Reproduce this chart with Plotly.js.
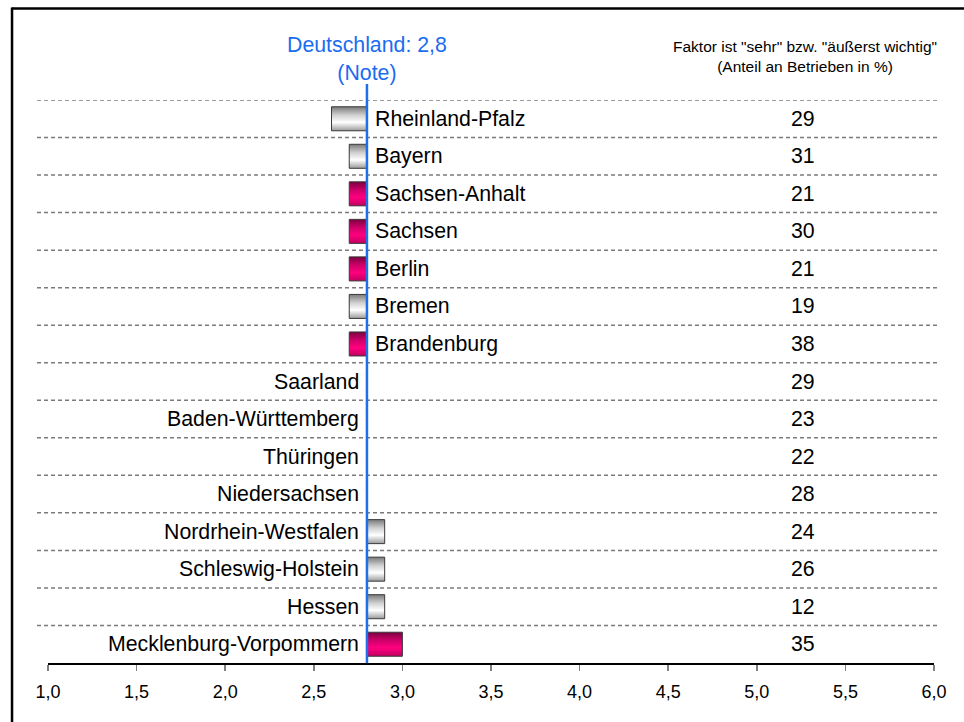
<!DOCTYPE html>
<html>
<head>
<meta charset="utf-8">
<script src="https://cdn.plot.ly/plotly-3.0.1.min.js"></script>
<style>html,body{margin:0;padding:0;background:#fff;}#chart{width:964px;height:722px;}</style>
</head>
<body>
<div id="chart"></div>
<script>
// ---- data ----
const states = ["Rheinland-Pfalz","Bayern","Sachsen-Anhalt","Sachsen","Berlin","Bremen","Brandenburg","Saarland","Baden-Württemberg","Thüringen","Niedersachsen","Nordrhein-Westfalen","Schleswig-Holstein","Hessen","Mecklenburg-Vorpommern"];
const grades = [2.6,2.7,2.7,2.7,2.7,2.7,2.7,2.8,2.8,2.8,2.8,2.9,2.9,2.9,3.0];
const shares = [29,31,21,30,21,19,38,29,23,22,28,24,26,12,35];
const region = ["W","W","O","O","O","W","O","W","W","O","W","W","W","W","O"]; // O = Ost (pink), W = West (grey)
const germany = 2.8;
const xTicks = [1.0,1.5,2.0,2.5,3.0,3.5,4.0,4.5,5.0,5.5,6.0];
const headerLines = ['Faktor ist "sehr" bzw. "äußerst wichtig"', '(Anteil an Betrieben in %)'];
const refLines = ['Deutschland: 2,8', '(Note)'];

const FONT = 'Liberation Sans, Arial, sans-serif';
const BIG = 21.3;

function barTrace(reg, color) {
  const idx = states.map((s,i)=>i).filter(i=>region[i]===reg);
  return {
    type:'bar', orientation:'h',
    y: idx.map(i=>states[i]),
    x: idx.map(i=>Math.round((grades[i]-germany)*10)/10),
    base: idx.map(()=>germany),
    width: 0.64,
    marker:{color:color, line:{color:'#3a3a3a', width:1}},
    hoverinfo:'skip', name: reg
  };
}

const traces = [barTrace('W','#d8d8d8'), barTrace('O','#f0007a')];

const annotations = [];
states.forEach((s,i)=>{
  const left = grades[i] < germany;
  annotations.push({
    x: germany, y: s, xref:'x', yref:'y', text: s, showarrow:false,
    xanchor: left ? 'left' : 'right', xshift: left ? 6 : -6,
    font:{family:FONT, size:BIG, color:'#000'}
  });
  annotations.push({
    x: 0.852, y: s, xref:'paper', yref:'y', text: String(shares[i]), showarrow:false,
    xanchor:'center', font:{family:FONT, size:BIG, color:'#000'}
  });
});
annotations.push({x:0.854, y:1.0+ (100-57)/563, xref:'paper', yref:'paper', text:headerLines.join('<br>'), showarrow:false, xanchor:'center', yanchor:'middle', font:{family:FONT, size:15.5, color:'#000'}});
annotations.push({x:germany, y:1.0+ (100-59)/563, xref:'x', yref:'paper', text:refLines.join('<br>'), showarrow:false, xanchor:'center', yanchor:'middle', font:{family:FONT, size:BIG, color:'#1a6cf0'}});

const shapes = [];
for (let k = 0; k < states.length; k++) {
  shapes.push({type:'line', xref:'paper', yref:'y', x0:-0.0124, x1:1.0068, y0:k-0.5, y1:k-0.5,
    line:{color:'#7a7a7a', width:1.5, dash:'4px,3px'}});
}
// outer frame (top and left edges visible)
shapes.push({type:'line', xref:'paper', yref:'paper', x0:-0.0406, x1:1.2, y0:1+(100-8.5)/563, y1:1+(100-8.5)/563, line:{color:'#000', width:2.5}});
shapes.push({type:'line', xref:'paper', yref:'paper', x0:-0.0406, x1:-0.0406, y0:-0.3, y1:1+(100-7.5)/563, line:{color:'#000', width:2.5}});
// Germany reference line
shapes.push({type:'line', xref:'x', yref:'paper', x0:germany, x1:germany, y0:0, y1:1+(100-84)/563, line:{color:'#1f6fe8', width:2.5}, layer:'above'});

const layout = {
  width:964, height:722,
  margin:{l:48, r:30, t:100, b:59},
  paper_bgcolor:'#fff', plot_bgcolor:'#fff',
  separators:',.',
  showlegend:false,
  barmode:'overlay',
  font:{family:FONT, color:'#000'},
  xaxis:{range:[1,6], tickvals:xTicks, tickformat:'.1f', showgrid:false, zeroline:false,
    showline:true, linecolor:'#000', linewidth:1.5, ticks:'outside', ticklen:6, tickcolor:'#808080', tickwidth:1.5,
    tickfont:{family:FONT, size:18, color:'#000'}, ticklabelstandoff:6, fixedrange:true},
  yaxis:{type:'category', categoryorder:'array', categoryarray:states, range:[14.5,-0.5],
    showticklabels:false, showgrid:false, zeroline:false, showline:false, ticks:'', fixedrange:true},
  annotations:annotations,
  shapes:shapes
};

Plotly.newPlot('chart', traces, layout, {displayModeBar:false, staticPlot:true}).then(gd=>{
  const svg = gd.querySelector('svg.main-svg');
  const ns = 'http://www.w3.org/2000/svg';
  let defs = svg.querySelector('defs');
  if (!defs) { defs = document.createElementNS(ns,'defs'); svg.insertBefore(defs, svg.firstChild); }
  function grad(id, stops) {
    const g = document.createElementNS(ns,'linearGradient');
    g.setAttribute('id', id); g.setAttribute('x1','0'); g.setAttribute('y1','0'); g.setAttribute('x2','0'); g.setAttribute('y2','1');
    stops.forEach(([o,c])=>{ const s=document.createElementNS(ns,'stop'); s.setAttribute('offset',o); s.setAttribute('stop-color',c); g.appendChild(s); });
    defs.appendChild(g);
  }
  grad('gGrey', [['0','#7a7a7a'],['0.35','#d0d0d0'],['0.65','#ffffff'],['1','#9a9a9a']]);
  grad('gPink', [['0','#7a0040'],['0.35','#d0006a'],['0.65','#ff0080'],['1','#c00060']]);
  const tr = gd.querySelectorAll('.barlayer .trace');
  tr.forEach((t,ti)=>{
    t.querySelectorAll('path').forEach(p=>{ p.style.fill = ti===0 ? 'url(#gGrey)' : 'url(#gPink)'; });
  });
});
</script>
</body>
</html>
